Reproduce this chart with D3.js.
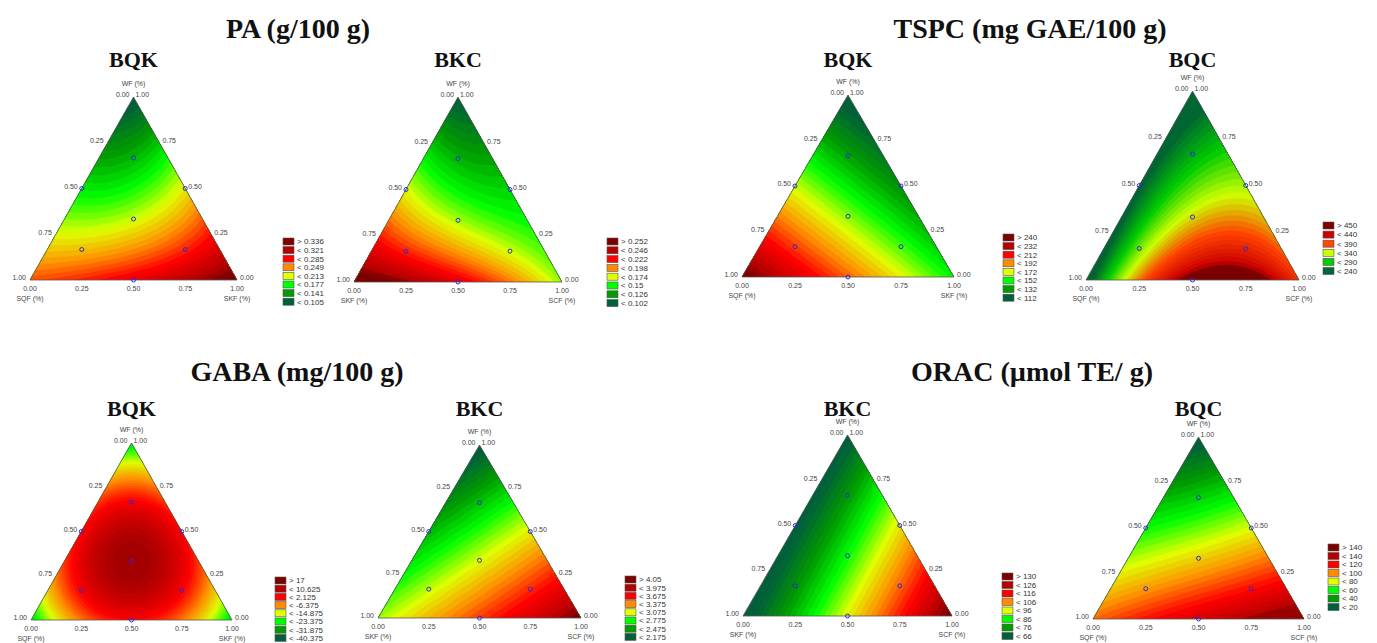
<!DOCTYPE html>
<html lang="en">
  <head>
    <meta charset="UTF-8" />
    <title>Ternary mixture contour plots</title>
    <script src="https://d3js.org/d3.v7.min.js"></script>
    <style>
      body { margin: 0; background: #fff; }
      .title { font-family: "Liberation Serif", serif; font-weight: bold; font-size: 28px; text-anchor: middle; fill: #111; }
      .sub { font-family: "Liberation Serif", serif; font-weight: bold; font-size: 22px; text-anchor: middle; fill: #111; }
      .tick { font-family: "Liberation Sans", Arial, sans-serif; font-size: 7px; fill: #444; }
      .leg { font-family: "Liberation Sans", Arial, sans-serif; font-size: 8px; fill: #333; }
      .edge { fill: none; stroke: #555; stroke-width: 0.8; }
      .pt { fill: none; stroke: #2b2bd9; stroke-width: 1; }
    </style>
  </head>
  <body>
    <svg id="canvas" width="1377" height="643"></svg>

    <script>
      // response at: WF vertex, left vertex, right vertex,
      // WF-left mid, WF-right mid, left-right mid, centroid
      const paBQK = [0.095, 0.265, 0.345, 0.17, 0.22, 0.295, 0.21];
      const paBKC = [0.098, 0.262, 0.165, 0.175, 0.14, 0.23, 0.168];
      const tspcBQK = [105, 245, 150, 170, 128, 198, 164];
      const tspcBQC = [215, 215, 400, 232, 330, 462, 350];
      const gabaBQK = [-27, -27, -27, 2, 2, 2, 13];
      const gabaBKC = [2.1, 2.98, 4.1, 2.55, 3.12, 3.55, 3.07];
      const oracBKC = [64, 62, 132, 64, 98, 97, 86];
      const oracBQC = [15, 105, 150, 60, 80, 130, 88];

      // legend levels, top to bottom
      const paBQKLegend = [0.336, 0.321, 0.285, 0.249, 0.213, 0.177, 0.141, 0.105];
      const paBKCLegend = [0.252, 0.246, 0.222, 0.198, 0.174, 0.15, 0.126, 0.102];
      const tspcBQKLegend = [240, 232, 212, 192, 172, 152, 132, 112];
      const tspcBQCLegend = [450, 440, 390, 340, 290, 240];
      const gabaBQKLegend = [17, 10.625, 2.125, -6.375, -14.875, -23.375, -31.875, -40.375];
      const gabaBKCLegend = [4.05, 3.975, 3.675, 3.375, 3.075, 2.775, 2.475, 2.175];
      const oracBKCLegend = [130, 126, 116, 106, 96, 86, 76, 66];
      const oracBQCLegend = [140, 140, 120, 100, 80, 60, 40, 20];

      const colors8 = ["#7d0000", "#b40000", "#ff0000", "#ff8c00", "#e0ff00", "#00ff00", "#009c00", "#00603a"];
      const colors6 = ["#7d0000", "#cc0000", "#ff4500", "#ccff00", "#00cc00", "#006633"];

      const tickValues = [0, 0.25, 0.5, 0.75, 1];

      // design points as [WF, left, right]
      const designPoints = [
        [2 / 3, 1 / 6, 1 / 6], [1 / 6, 2 / 3, 1 / 6], [1 / 6, 1 / 6, 2 / 3],
        [1 / 3, 1 / 3, 1 / 3], [0.5, 0.5, 0], [0.5, 0, 0.5], [0, 0.5, 0.5],
      ];

      const headings = [
        { text: "PA (g/100 g)", x: 298, y: 38 },
        { text: "TSPC (mg GAE/100 g)", x: 1030, y: 38 },
        { text: "GABA (mg/100 g)", x: 297, y: 381 },
        { text: "ORAC (\u00b5mol TE/ g)", x: 1032, y: 381 },
      ];

      const panels = [
        { name: "BQK", left: "SQF (%)", right: "SKF (%)", data: paBQK, legend: paBQKLegend, colors: colors8,
          x0: 30, x1: 237, base: 280, apex: 97, subY: 67, legX: 283, legY: 238, legStep: 8.6 },
        { name: "BKC", left: "SKF (%)", right: "SCF (%)", data: paBKC, legend: paBKCLegend, colors: colors8,
          x0: 354, x1: 562, base: 282, apex: 97, subY: 67, legX: 607, legY: 238, legStep: 8.8 },
        { name: "BQK", left: "SQF (%)", right: "SKF (%)", data: tspcBQK, legend: tspcBQKLegend, colors: colors8,
          x0: 742, x1: 954, base: 277, apex: 95, subY: 67, legX: 1003, legY: 234, legStep: 8.6 },
        { name: "BQC", left: "SQF (%)", right: "SCF (%)", data: tspcBQC, legend: tspcBQCLegend, colors: colors6,
          x0: 1086, x1: 1299, base: 280, apex: 91, subY: 67, legX: 1323, legY: 222, legStep: 9.1 },
        { name: "BQK", left: "SQF (%)", right: "SKF (%)", data: gabaBQK, legend: gabaBQKLegend, colors: colors8,
          x0: 31, x1: 232, base: 620, apex: 443, subY: 416, legX: 275, legY: 577, legStep: 8.2 },
        { name: "BKC", left: "SKF (%)", right: "SCF (%)", data: gabaBKC, legend: gabaBKCLegend, colors: colors8,
          x0: 378, x1: 581, base: 618, apex: 445, subY: 416, legX: 625, legY: 576, legStep: 8.2 },
        { name: "BKC", left: "SKF (%)", right: "SCF (%)", data: oracBKC, legend: oracBKCLegend, colors: colors8,
          x0: 743, x1: 952, base: 616, apex: 435, subY: 416, legX: 1002, legY: 573, legStep: 8.5 },
        { name: "BQC", left: "SQF (%)", right: "SCF (%)", data: oracBQC, legend: oracBQCLegend, colors: colors8,
          x0: 1093, x1: 1304, base: 619, apex: 437, subY: 416, legX: 1328, legY: 544, legStep: 8.5 },
      ];

      const svg = d3.select("#canvas");
      const fmt = d3.format(".2f");

      svg.selectAll(".title")
        .data(headings)
        .enter()
        .append("text")
        .attr("class", "title")
        .attr("x", (d) => d.x)
        .attr("y", (d) => d.y)
        .text((d) => d.text);

      // special cubic Scheffe model through the 7 simplex-centroid values
      function scheffe(v) {
        const [y1, y2, y3, y12, y13, y23, yc] = v;
        const b12 = 4 * y12 - 2 * (y1 + y2);
        const b13 = 4 * y13 - 2 * (y1 + y3);
        const b23 = 4 * y23 - 2 * (y2 + y3);
        const b123 = 27 * yc - 12 * (y12 + y13 + y23) + 3 * (y1 + y2 + y3);
        return (a, b, c) =>
          y1 * a + y2 * b + y3 * c + b12 * a * b + b13 * a * c + b23 * b * c + b123 * a * b * c;
      }

      panels.forEach((p, idx) => {
        const g = svg.append("g");
        const xs = d3.scaleLinear().domain([0, 1]).range([p.x0, p.x1]);
        const ys = d3.scaleLinear().domain([0, 1]).range([p.base, p.apex]);
        const pos = (wf, r) => [xs(r + wf / 2), ys(wf)];
        const color = d3.scaleLinear().domain(p.legend).range(p.colors).clamp(true);
        const f = scheffe(p.data);

        // grid of model values over the bounding box
        const ox = Math.floor(p.x0) - 1, oy = Math.floor(p.apex) - 1;
        const w = Math.ceil(p.x1 - ox) + 2, h = Math.ceil(p.base - oy) + 2;
        const values = new Array(w * h);
        let lo = Infinity, hi = -Infinity, gmin = Infinity;
        for (let j = 0; j < h; j++) {
          for (let i = 0; i < w; i++) {
            const wf = ys.invert(oy + j + 0.5);
            const r = xs.invert(ox + i + 0.5) - wf / 2;
            const l = 1 - wf - r;
            const v = f(wf, l, r);
            values[j * w + i] = v;
            gmin = Math.min(gmin, v);
            if (wf >= 0 && r >= 0 && l >= 0) {
              lo = Math.min(lo, v);
              hi = Math.max(hi, v);
            }
          }
        }
        const nb = 36;
        const step = (hi - lo) / nb;
        const thresholds = [gmin - 1].concat(d3.range(1, nb).map((k) => lo + step * k));

        const contours = d3.contours().size([w, h]).thresholds(thresholds)(values);
        const path = d3.geoPath(d3.geoIdentity().translate([ox, oy]));
        const bandColor = (d, k) => color(k === 0 ? lo + step / 2 : d.value + step / 2);

        const tri = [pos(1, 0), pos(0, 0), pos(0, 1)];
        svg.append("clipPath")
          .attr("id", "clip" + idx)
          .append("polygon")
          .attr("points", tri.map((d) => d.join(",")).join(" "));

        g.append("g")
          .attr("clip-path", `url(#clip${idx})`)
          .selectAll("path")
          .data(contours)
          .enter()
          .append("path")
          .attr("d", path)
          .attr("fill", bandColor)
          .attr("stroke", bandColor)
          .attr("stroke-width", 0.3);

        g.append("polygon")
          .attr("class", "edge")
          .attr("points", tri.map((d) => d.join(",")).join(" "));

        // design points
        g.selectAll(".pt")
          .data(designPoints)
          .enter()
          .append("circle")
          .attr("class", "pt")
          .attr("cx", (d) => pos(d[0], d[2])[0])
          .attr("cy", (d) => pos(d[0], d[2])[1])
          .attr("r", 2);

        // left edge: left component, 0 at apex
        g.selectAll(".tl")
          .data(tickValues)
          .enter()
          .append("text")
          .attr("class", "tick")
          .attr("text-anchor", "end")
          .attr("x", (t) => pos(1 - t, 0)[0] - 4)
          .attr("y", (t) => pos(1 - t, 0)[1] - 2)
          .attr("dy", "0.35em")
          .text(fmt);

        // right edge: WF, 0 at bottom right
        g.selectAll(".tr")
          .data(tickValues)
          .enter()
          .append("text")
          .attr("class", "tick")
          .attr("x", (t) => pos(t, 1 - t)[0] + (t === 1 ? 2 : 3))
          .attr("y", (t) => pos(t, 1 - t)[1] - 2)
          .attr("dy", "0.35em")
          .text(fmt);

        // bottom edge: right component
        g.selectAll(".tb")
          .data(tickValues)
          .enter()
          .append("text")
          .attr("class", "tick")
          .attr("text-anchor", "middle")
          .attr("x", (t) => xs(t))
          .attr("y", p.base + 9)
          .attr("dy", "0.35em")
          .text(fmt);

        const labels = [
          { t: "WF (%)", x: xs(0.5), y: p.apex - 13 },
          { t: p.left, x: p.x0, y: p.base + 19 },
          { t: p.right, x: p.x1, y: p.base + 19 },
        ];
        g.selectAll(".ax")
          .data(labels)
          .enter()
          .append("text")
          .attr("class", "tick")
          .attr("text-anchor", "middle")
          .attr("x", (d) => d.x)
          .attr("y", (d) => d.y)
          .attr("dy", "0.35em")
          .text((d) => d.t);

        g.append("text")
          .attr("class", "sub")
          .attr("x", xs(0.5))
          .attr("y", p.subY)
          .text(p.name);

        // legend
        const leg = g.selectAll(".lg")
          .data(p.legend)
          .enter()
          .append("g")
          .attr("transform", (d, i) => `translate(${p.legX},${p.legY + i * p.legStep})`);
        leg.append("rect")
          .attr("width", 11)
          .attr("height", 7)
          .attr("fill", (d, i) => p.colors[i])
          .attr("stroke", "#555")
          .attr("stroke-width", 0.6);
        leg.append("text")
          .attr("class", "leg")
          .attr("x", 14)
          .attr("y", 6.3)
          .text((d, i) => (i === 0 ? "> " : "< ") + d);
      });
    </script>
  </body>
</html>
